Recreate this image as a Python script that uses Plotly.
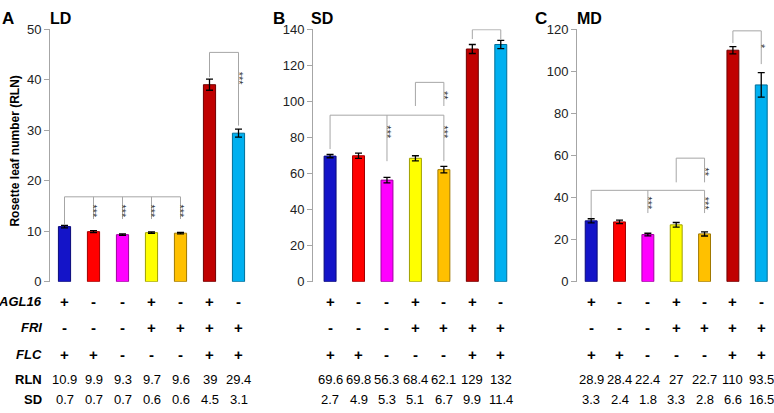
import plotly.graph_objects as go

W, H = 774, 413

genotypes = ["g1", "g2", "g3", "g4", "g5", "g6", "g7"]
bar_colors = ["#1414C8", "#FF0000", "#FF00FF", "#FFFF00", "#FFC000", "#C00000", "#00B0F0"]
edge_colors = ["#0A0A7A", "#A00000", "#A000A0", "#A0A000", "#A07800", "#700000", "#006E98"]

agl16 = ["+", "-", "-", "+", "-", "+", "-"]
fri = ["-", "-", "-", "+", "+", "+", "+"]
flc = ["+", "+", "-", "-", "-", "+", "+"]

ld_rln = [10.9, 9.9, 9.3, 9.7, 9.6, 39, 29.4]
ld_sd = [0.7, 0.7, 0.7, 0.6, 0.6, 4.5, 3.1]
ld_err = [0.25, 0.2, 0.15, 0.15, 0.15, 1.1, 0.8]   # error bars as drawn

sd_rln = [69.6, 69.8, 56.3, 68.4, 62.1, 129, 131.5]
sd_rln_lbl = ["69.6", "69.8", "56.3", "68.4", "62.1", "129", "132"]
sd_sd = [2.7, 4.9, 5.3, 5.1, 6.7, 9.9, 11.4]
sd_err = [0.9, 1.5, 1.5, 1.4, 1.8, 2.5, 2.3]

md_rln = [28.9, 28.4, 22.4, 27, 22.7, 110, 93.5]
md_sd = [3.3, 2.4, 1.8, 3.3, 2.8, 6.6, 16.5]
md_err = [1.0, 0.8, 0.6, 1.1, 1.0, 1.7, 5.8]

# brackets: (left bar, right bar, height, {bar: drop end}); stars: (bar, y, text)
ld_brackets = [
    (0, 4, 16.8, {0: 11.2, 1: 12.4, 2: 12.4, 3: 12.4, 4: 12.4}),
    (5, 6, 45.4, {5: 40.5, 6: 30.9}),
]
ld_stars = [(1, 14.0, "***"), (2, 14.0, "***"), (3, 14.0, "***"), (4, 14.0, "***"), (6, 40.3, "***")]

sd_brackets = [
    (0, 4, 92.3, {0: 73.5, 2: 66.8, 4: 66.8}),
    (3, 4, 110.5, {3: 97.4, 4: 97.4}),
    (5, 6, 139.7, {5: 134.5, 6: 134.5}),
]
sd_stars = [(2, 82.8, "***"), (4, 82.8, "***"), (4, 103.0, "**")]

md_brackets = [
    (0, 4, 43.4, {0: 30.2, 2: 32.6, 4: 32.6}),
    (3, 4, 58.7, {3: 47.2, 4: 47.2}),
    (5, 6, 119.2, {5: 113.4, 6: 103.4}),
]
md_stars = [(2, 37.2, "***"), (4, 37.2, "***"), (4, 52.1, "**"), (6, 111.9, "*")]

panels = [
    dict(name="LD", letter="A", rln=ld_rln, lbl=[str(v) for v in ld_rln], sd=ld_sd, err=ld_err,
         brackets=ld_brackets, stars=ld_stars, yrange=[0, 50], dtick=10,
         dom=[50, 253], xr=[-0.5, 6.5], letter_x=8, title_x=60),
    dict(name="SD", letter="B", rln=sd_rln, lbl=sd_rln_lbl, sd=sd_sd, err=sd_err,
         brackets=sd_brackets, stars=sd_stars, yrange=[0, 140], dtick=20,
         dom=[313, 515], xr=[-0.6, 6.5], letter_x=279, title_x=322),
    dict(name="MD", letter="C", rln=md_rln, lbl=[str(v) for v in md_rln], sd=md_sd, err=md_err,
         brackets=md_brackets, stars=md_stars, yrange=[0, 120], dtick=20,
         dom=[577, 774], xr=[-0.5, 6.45], letter_x=541, title_x=589),
]

FONT = "Liberation Sans, Arial, sans-serif"
GRAY = "#A6A6A6"
fig = go.Figure()
annotations = []

def py(ypx):
    return (H - ypx) / H

def ann(**kw):
    kw.setdefault("xanchor", "center")
    kw.setdefault("yanchor", "middle")
    kw.setdefault("showarrow", False)
    annotations.append(kw)

ydom = [py(285), py(23)]
xs = list(range(len(genotypes)))

for i, p in enumerate(panels):
    sfx = "" if i == 0 else str(i + 1)
    xa, ya = "x" + sfx, "y" + sfx
    fig.add_trace(go.Bar(
        x=xs, y=p["rln"], width=0.42, xaxis=xa, yaxis=ya,
        marker=dict(color=bar_colors, line=dict(color=edge_colors, width=1)),
        error_y=dict(type="data", array=p["err"], color="black", thickness=1.3, width=3.5),
        showlegend=False, hoverinfo="skip",
    ))
    for (a, b, h, drops) in p["brackets"]:
        fig.add_trace(go.Scatter(x=[a, b], y=[h, h], mode="lines", xaxis=xa, yaxis=ya,
                                 line=dict(color=GRAY, width=1), showlegend=False, hoverinfo="skip"))
        for bar, yend in drops.items():
            fig.add_trace(go.Scatter(x=[bar, bar], y=[h, yend], mode="lines", xaxis=xa, yaxis=ya,
                                     line=dict(color=GRAY, width=1), showlegend=False, hoverinfo="skip"))
    for (bar, yv, txt) in p["stars"]:
        ann(x=bar, y=yv, xref=xa, yref=ya, text=txt, textangle=90,
            font=dict(family=FONT, size=11, color="#333333"))
    dom = [p["dom"][0] / W, min(p["dom"][1] / W, 1.0)]
    fig.update_layout(**{
        ("xaxis" if i == 0 else f"xaxis{i+1}"): dict(
            domain=dom, range=p["xr"], showticklabels=False, showline=False, showgrid=False,
            zeroline=False, ticks="", anchor=ya, fixedrange=True),
        ("yaxis" if i == 0 else f"yaxis{i+1}"): dict(
            domain=ydom, range=p["yrange"], dtick=p["dtick"], showline=True, linecolor=GRAY,
            linewidth=1, ticks="outside", ticklen=5, tickcolor=GRAY, showgrid=False,
            zeroline=False, anchor=xa, tickfont=dict(family=FONT, size=13, color="#222222")),
    })
    ann(x=p["letter_x"] / W, y=py(12), xref="paper", yref="paper", text="<b>" + p["letter"] + "</b>",
        font=dict(family=FONT, size=17, color="black"))
    ann(x=p["title_x"] / W, y=py(12), xref="paper", yref="paper", text="<b>" + p["name"] + "</b>",
        font=dict(family=FONT, size=16, color="black"))
    rows = [(agl16, 306), (fri, 333), (flc, 361)]
    for vals, ypx in rows:
        for k, v in enumerate(vals):
            ann(x=k, y=py(ypx), xref=xa, yref="paper", text="<b>" + v + "</b>",
                font=dict(family=FONT, size=15, color="black"))
    for k in xs:
        ann(x=k, y=py(387), xref=xa, yref="paper", text=p["lbl"][k],
            font=dict(family=FONT, size=13, color="black"))
        ann(x=k, y=py(407), xref=xa, yref="paper", text=str(p["sd"][k]),
            font=dict(family=FONT, size=13, color="black"))

row_labels = [("<b><i>AGL16</i></b>", 306), ("<b><i>FRI</i></b>", 333), ("<b><i>FLC</i></b>", 361),
              ("<b>RLN</b>", 387), ("<b>SD</b>", 407)]
for txt, ypx in row_labels:
    ann(x=44 / W, y=py(ypx), xref="paper", yref="paper", text=txt, xanchor="right",
        font=dict(family=FONT, size=13, color="black"))

ann(x=15 / W, y=py(150), xref="paper", yref="paper", text="<b>Rosette leaf number (RLN)</b>",
    textangle=-90, font=dict(family=FONT, size=12, color="black"))

fig.update_layout(
    width=W, height=H, autosize=False, margin=dict(l=0, r=0, t=0, b=0),
    paper_bgcolor="white", plot_bgcolor="white",
    annotations=annotations, bargap=0.5,
)

fig.write_html(
    "out.html",
    config={"displayModeBar": False, "responsive": False, "staticPlot": True},
    post_script="document.body.style.margin='0';document.body.style.overflow='hidden';"
                "document.documentElement.style.overflow='hidden';",
)
